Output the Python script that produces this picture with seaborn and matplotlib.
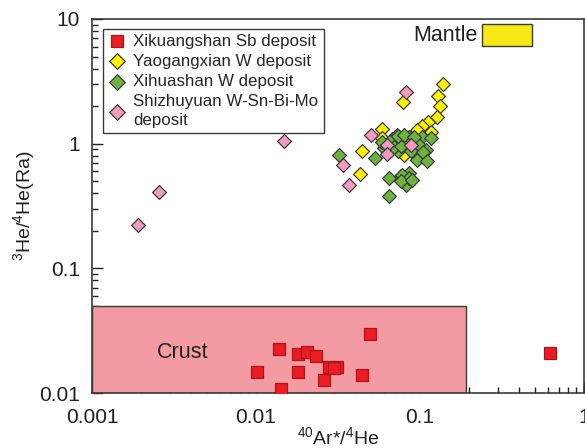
import matplotlib
matplotlib.use("Agg")
import matplotlib.pyplot as plt
import matplotlib.patches as mpatches
from matplotlib.ticker import LogLocator, NullFormatter, FixedLocator, FixedFormatter
import seaborn as sns
import pandas as pd

# ---------------- data ----------------
sb_x = [0.0101, 0.0139, 0.0142, 0.0181, 0.0204, 0.0231, 0.0181, 0.0258,
        0.0277, 0.0314, 0.0300, 0.0442, 0.0497, 0.624]
sb_y = [0.0148, 0.0224, 0.0108, 0.0206, 0.0212, 0.0198, 0.0148, 0.0126,
        0.0161, 0.0161, 0.0158, 0.0139, 0.0298, 0.0211]

yg_x = [0.1385, 0.1287, 0.1328, 0.1264, 0.1123, 0.1033, 0.0963, 0.0819,
        0.0799, 0.0788, 0.0585, 0.0442, 0.0432, 0.0587, 0.1167, 0.0799]
yg_y = [3.03, 2.43, 2.02, 1.64, 1.49, 1.38, 1.28, 1.01,
        0.895, 2.16, 1.32, 0.867, 0.571, 1.12, 1.25, 0.815]

xh_x = [0.0322, 0.0533, 0.0604, 0.0679, 0.0728, 0.0738, 0.0648, 0.0763,
        0.0819, 0.0648, 0.0857, 0.0695, 0.0857, 0.1033, 0.1161, 0.0986,
        0.0763, 0.1083, 0.0878, 0.0963, 0.0781, 0.0857, 0.0763, 0.0898,
        0.1047, 0.0735, 0.1108, 0.0590, 0.0799, 0.0920]
xh_y = [0.815, 0.768, 0.924, 1.08, 1.18, 0.867, 0.530, 0.546,
        0.469, 0.382, 0.582, 0.934, 1.14, 1.13, 1.11, 0.98,
        0.951, 0.895, 0.867, 0.744, 0.564, 0.530, 0.498, 0.514,
        0.851, 1.16, 0.721, 1.04, 1.18, 1.14]

sz_x = [0.0148, 0.00257, 0.00191, 0.0819, 0.0502, 0.0627, 0.0633, 0.0878,
        0.0337, 0.0367]
sz_y = [1.06, 0.409, 0.221, 2.58, 1.17, 0.98, 0.827, 0.972,
        0.678, 0.469]

labels = ["Xikuangshan Sb deposit", "Yaogangxian W deposit",
          "Xihuashan W deposit", "Shizhuyuan W-Sn-Bi-Mo\ndeposit"]

crust_x = [0.001, 0.19]
crust_y = [0.01, 0.05]
mantle_x = [0.24, 0.48]
mantle_y = [6.1, 9.1]

x_ticks = [0.001, 0.01, 0.1, 1]
x_ticklabels = ["0.001", "0.01", "0.1", "1"]
y_ticks = [0.01, 0.1, 1, 10]
y_ticklabels = ["0.01", "0.1", "1", "10"]

# ---------------- plot ----------------
sns.set_style("white")
plt.rcParams["font.family"] = ["Liberation Sans", "DejaVu Sans"]
plt.rcParams["mathtext.fontset"] = "custom"
plt.rcParams["mathtext.rm"] = "Liberation Sans"
plt.rcParams["mathtext.it"] = "Liberation Sans"

fig = plt.figure(figsize=(5.85, 4.48), dpi=100)
ax = fig.add_axes([92 / 585, 55 / 448, 492 / 585, 374 / 448])
ax.set_xscale("log")
ax.set_yscale("log")
ax.set_xlim(0.001, 1)
ax.set_ylim(0.01, 10)

TXT = "#231F20"

# Crust and mantle boxes
ax.add_patch(mpatches.Rectangle((crust_x[0], crust_y[0]), crust_x[1] - crust_x[0],
                                crust_y[1] - crust_y[0], facecolor="#F39BA2",
                                edgecolor="#3a3a3a", linewidth=1.0, zorder=1))
ax.add_patch(mpatches.Rectangle((mantle_x[0], mantle_y[0]), mantle_x[1] - mantle_x[0],
                                mantle_y[1] - mantle_y[0], facecolor="#F7EA14",
                                edgecolor="#3a3a3a", linewidth=1.0, zorder=1,
                                clip_on=False))
ax.text(0.00357, 0.0213, "Crust", fontsize=15.5, ha="center", va="center",
        color=TXT, zorder=2)
ax.text(0.226, 7.4, "Mantle", fontsize=15.5, ha="right", va="center",
        color=TXT, zorder=2)

series = [
    (sb_x, sb_y, "s", "#EC1C24", "#B0141A", 66, labels[0]),
    (yg_x, yg_y, "D", "#FFF200", "#3a3a3a", 50, labels[1]),
    (xh_x, xh_y, "D", "#6CB33F", "#3a3a3a", 50, labels[2]),
    (sz_x, sz_y, "D", "#F49AC1", "#3a3a3a", 50, labels[3]),
]
for i, (xs, ys, mk, fc, ec, s, lab) in enumerate(series):
    df = pd.DataFrame({"x": xs, "y": ys})
    sns.scatterplot(data=df, x="x", y="y", marker=mk, color=fc, edgecolor=ec,
                    linewidth=0.9, s=s, label=lab, ax=ax, zorder=3 + i)

# ticks
ax.xaxis.set_major_locator(FixedLocator(x_ticks))
ax.xaxis.set_major_formatter(FixedFormatter(x_ticklabels))
ax.yaxis.set_major_locator(FixedLocator(y_ticks))
ax.yaxis.set_major_formatter(FixedFormatter(y_ticklabels))
ax.xaxis.set_minor_locator(LogLocator(base=10, subs=range(2, 10)))
ax.yaxis.set_minor_locator(LogLocator(base=10, subs=range(2, 10)))
ax.xaxis.set_minor_formatter(NullFormatter())
ax.yaxis.set_minor_formatter(NullFormatter())
ax.tick_params(which="major", direction="in", length=8, width=1.0,
               colors=TXT, labelsize=15, bottom=True, left=True,
               top=False, right=False)
ax.tick_params(which="minor", direction="in", length=4.5, width=1.0,
               colors=TXT, bottom=True, left=True, top=False, right=False)
ax.tick_params(axis="x", which="major", pad=10.5)
ax.tick_params(axis="y", which="major", pad=8.5)
for sp in ax.spines.values():
    sp.set_color("#3a3a3a")
    sp.set_linewidth(1.2)

ax.set_xlabel(r"$^{40}$Ar*/$^{4}$He", fontsize=14, color=TXT, labelpad=-0.5)
ax.set_ylabel(r"$^{3}$He/$^{4}$He(Ra)", fontsize=14, color=TXT, labelpad=2)

leg = ax.legend(loc="upper left", bbox_to_anchor=(0.022, 0.974), fontsize=12.2,
                frameon=True, fancybox=False, framealpha=1, edgecolor="#3a3a3a",
                borderpad=0.3, labelspacing=0.3, handletextpad=0.4,
                handlelength=1.1, borderaxespad=0, markerscale=1.12)
leg.get_frame().set_linewidth(1.0)
leg.set_zorder(10)
leg.get_texts()[3].set_linespacing(1.3)

fig.savefig("out.png", dpi=100)
